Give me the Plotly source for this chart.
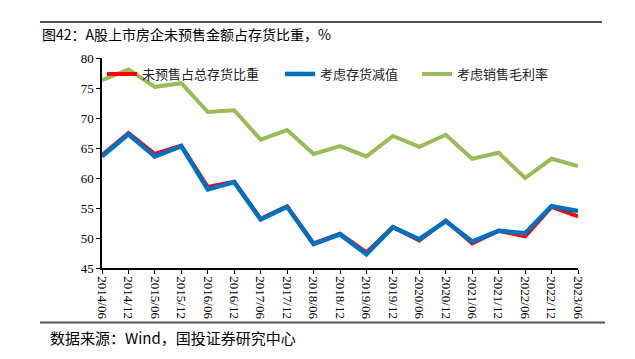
import plotly.graph_objects as go

categories = ["2014/06", "2014/12", "2015/06", "2015/12", "2016/06", "2016/12",
              "2017/06", "2017/12", "2018/06", "2018/12", "2019/06", "2019/12",
              "2020/06", "2020/12", "2021/06", "2021/12", "2022/06", "2022/12",
              "2023/06"]
unsold_share = [63.8, 67.5, 64.0, 65.4, 58.5, 59.4, 53.2, 55.3, 49.1, 50.7, 47.6, 51.8,
                49.6, 52.9, 49.1, 51.2, 50.3, 55.2, 53.6]
with_impairment = [63.6, 67.3, 63.6, 65.3, 58.1, 59.3, 53.1, 55.2, 49.0, 50.6, 47.3, 51.8,
                   49.8, 52.8, 49.4, 51.2, 50.8, 55.3, 54.5]
with_margin = [76.3, 78.1, 75.2, 75.8, 71.0, 71.3, 66.4, 68.0, 64.0, 65.3, 63.6, 67.0,
               65.2, 67.2, 63.2, 64.2, 60.0, 63.2, 62.0]
y_ticks = [45, 50, 55, 60, 65, 70, 75, 80]

x = list(range(len(categories)))

L, R, T, B = 102, 578, 58, 268
W, H = 635, 359

def px(xp):
    return (xp - L) / (R - L)

def py(yp):
    return (B - yp) / (B - T)

fig = go.Figure()
fig.add_trace(go.Scatter(x=x, y=unsold_share, mode="lines", name="未预售占总存货比重",
                         line=dict(color="#FF0000", width=4), legend="legend"))
fig.add_trace(go.Scatter(x=x, y=with_impairment, mode="lines", name="考虑存货减值",
                         line=dict(color="#0070C0", width=4.5), legend="legend2"))
fig.add_trace(go.Scatter(x=x, y=with_margin, mode="lines", name="考虑销售毛利率",
                         line=dict(color="#9BBB59", width=4), legend="legend3"))

leg_font = dict(family="Noto Sans CJK SC", size=13, color="#222222")

def leg(xpix):
    return dict(orientation="h", x=px(xpix), y=py(59), xanchor="left", yanchor="top",
                bgcolor="rgba(0,0,0,0)", font=leg_font, borderwidth=0)

fig.update_layout(
    width=W, height=H,
    margin=dict(l=L, r=W - R, t=T, b=H - B),
    paper_bgcolor="white", plot_bgcolor="white",
    showlegend=True,
    legend=leg(102),
    legend2=leg(280),
    legend3=leg(417),
    font=dict(family="Liberation Serif", size=12, color="black"),
)
fig.update_xaxes(
    range=[0, len(categories) - 1],
    tickmode="array", tickvals=x, ticktext=categories,
    tickangle=90, ticks="outside", ticklen=4, tickcolor="black",
    showline=True, linecolor="black", linewidth=1.5,
    showgrid=False, zeroline=False,
    tickfont=dict(family="Liberation Serif", size=13, color="black"),
)
fig.update_yaxes(
    range=[45, 80], tickvals=y_ticks,
    ticks="outside", ticklen=4, tickcolor="black",
    showline=True, linecolor="black", linewidth=1.5,
    showgrid=False, zeroline=False,
    tickfont=dict(family="Liberation Serif", size=13, color="black"),
)

fig.add_shape(type="line", xref="paper", yref="paper",
              x0=px(40), x1=px(602), y0=py(22), y1=py(22),
              line=dict(color="#555555", width=2))
fig.add_shape(type="line", xref="paper", yref="paper",
              x0=px(40), x1=px(605), y0=py(322.5), y1=py(322.5),
              line=dict(color="#555555", width=2))
fig.add_annotation(xref="paper", yref="paper", x=px(40), y=py(34),
                   xanchor="left", yanchor="middle", showarrow=False,
                   text="图42：A股上市房企未预售金额占存货比重，%",
                   font=dict(family="Noto Sans CJK SC", size=14, color="black"))
fig.add_annotation(xref="paper", yref="paper", x=px(48), y=py(337),
                   xanchor="left", yanchor="middle", showarrow=False,
                   text="数据来源：Wind，国投证券研究中心",
                   font=dict(family="Noto Sans CJK SC", size=15, color="black"))

fig.write_html("out.html", config={"displayModeBar": False},
               post_script="document.body.style.margin='0';document.body.style.overflow='hidden';")
